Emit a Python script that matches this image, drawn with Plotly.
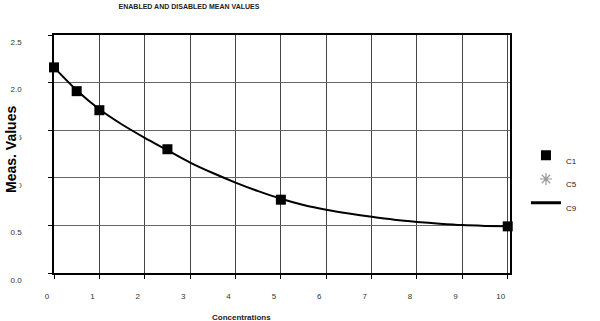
import plotly.graph_objects as go

# data
conc = [0.0, 0.5, 1.0, 2.5, 5.0, 10.0]
c1_values = [2.16, 1.91, 1.71, 1.30, 0.77, 0.49]
curve_x = [0.0, 0.5, 1.0, 1.5, 2.0, 2.5, 3.0, 3.5, 4.0, 4.5, 5.0, 5.5, 6.0, 6.5, 7.0, 7.5, 8.0, 8.5, 9.0, 9.5, 10.0]
curve_y = [2.16, 1.92, 1.72, 1.56, 1.42, 1.29, 1.16, 1.05, 0.95, 0.86, 0.78, 0.715, 0.665, 0.625, 0.59, 0.56, 0.537, 0.518, 0.503, 0.495, 0.49]
x_ticks = [0, 1, 2, 3, 4, 5, 6, 7, 8, 9, 10]
y_ticks = [0.0, 0.5, 1.0, 1.5, 2.0, 2.5]

fig = go.Figure()
fig.add_trace(go.Scatter(x=curve_x, y=curve_y, mode="lines", line=dict(color="black", width=2, shape="spline", smoothing=0.8),
                         showlegend=False, cliponaxis=False))
fig.add_trace(go.Scatter(x=conc, y=c1_values, mode="markers", name=" <br>C1",
                         marker=dict(symbol="square", size=10, color="black"), cliponaxis=False))
fig.add_trace(go.Scatter(x=[None], y=[None], mode="markers", name=" <br>C5",
                         marker=dict(symbol="asterisk-open", size=10, color="#999", line=dict(color="#999", width=1.2))))
fig.add_trace(go.Scatter(x=[None], y=[None], mode="lines", name=" <br>C9",
                         line=dict(color="black", width=3)))

tickfont = dict(family="Liberation Sans", size=8, color="#333")
fig.update_layout(
    width=600, height=321,
    margin=dict(l=54, r=90, t=35, b=48),
    paper_bgcolor="white", plot_bgcolor="white",
    title=dict(text="<b>ENABLED AND DISABLED MEAN VALUES</b>", x=189 / 600, xanchor="center",
               y=1 - 7 / 321, yanchor="middle", font=dict(family="Liberation Sans", size=7, color="#222")),
    xaxis=dict(range=[0, 10.05], tickvals=x_ticks, ticktext=[str(v) for v in x_ticks],
               showgrid=True, gridcolor="#444", gridwidth=1, zeroline=False,
               showline=True, linecolor="black", linewidth=1.5, mirror=True,
               ticks="outside", ticklen=4, tickcolor="black", tickfont=tickfont,
               ticklabelshift=-7, ticklabelstandoff=11, automargin=False),
    yaxis=dict(range=[0, 2.5], tickvals=y_ticks, ticktext=[f"{v:.1f}" for v in y_ticks],
               showgrid=True, gridcolor="#666", gridwidth=1, zeroline=False,
               showline=True, linecolor="black", linewidth=1.5, mirror=True,
               ticks="outside", ticklen=4, tickcolor="black", tickfont=tickfont,
               ticklabelshift=7, ticklabelstandoff=25, automargin=False),
    legend=dict(x=1.035, xanchor="left", y=0.566, yanchor="top",
                font=dict(family="Liberation Sans", size=8, color="#222"), valign="middle",
                bgcolor="rgba(0,0,0,0)", tracegroupgap=0),
    annotations=[
        dict(text="<b>Meas. Values</b>", textangle=-90, xref="paper", yref="paper",
             x=-43 / 456, y=0.517, xanchor="center", yanchor="middle", showarrow=False,
             bgcolor="white", borderpad=0, font=dict(family="Liberation Sans", size=14, color="black")),
        dict(text="<b>Concentrations</b>", xref="paper", yref="paper",
             x=0.412, y=-44 / 238, xanchor="center", yanchor="middle", showarrow=False,
             font=dict(family="Liberation Sans", size=8, color="#222")),
    ],
)
fig.write_html("out.html")
